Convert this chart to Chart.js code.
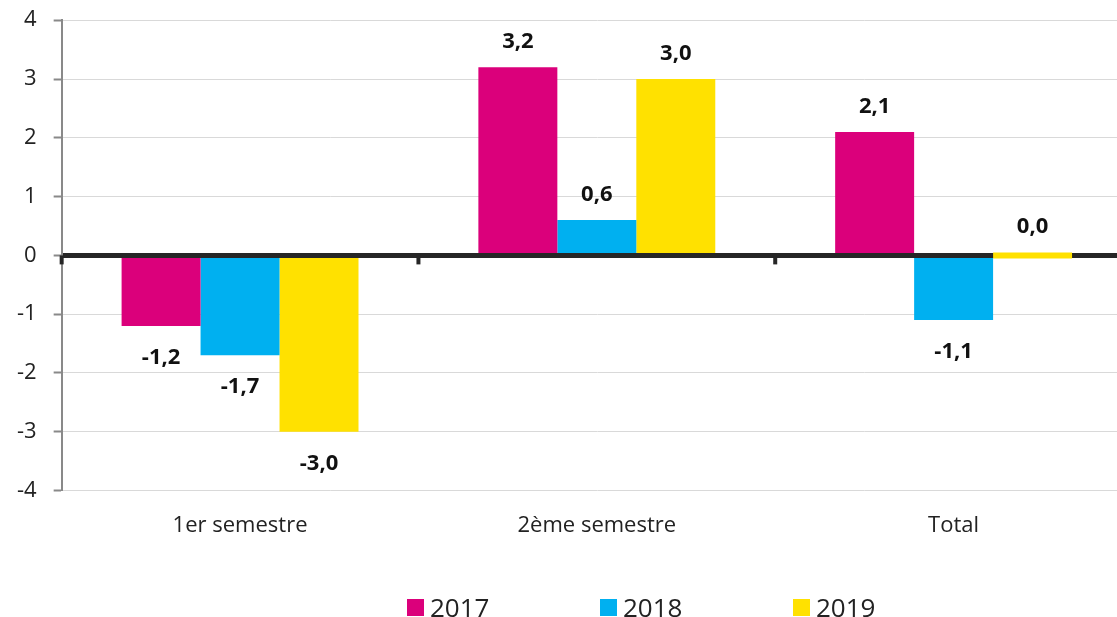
<!DOCTYPE html>
<html>
<head>
<meta charset="utf-8">
<script src="https://cdn.jsdelivr.net/npm/chart.js@4.4.0/dist/chart.umd.min.js"></script>
<style>
  html, body { margin: 0; padding: 0; background: #fff; overflow: hidden; }
  #wrap { position: relative; width: 1140px; height: 617px; overflow: hidden; }
  #mycanvas { position: absolute; left: 0; top: -10px; }
  #legend { position: absolute; left: 407px; top: 589px; display: flex; font-family: 'Open Sans', sans-serif; font-size: 26px; color: #222; }
  #legend .item { width: 193px; display: flex; align-items: center; }
  #legend .box { width: 17px; height: 17px; margin-right: 6px; }
</style>
</head>
<body>
<div id="wrap">
  <canvas id="mycanvas"></canvas>
  <div id="legend"></div>
</div>
<script>
var categories = ['1er semestre', '2ème semestre', 'Total'];
var years = ['2017', '2018', '2019'];
var values2017 = [-1.2, 3.2, 2.1];
var values2018 = [-1.7, 0.6, -1.1];
var values2019 = [-3.0, 3.0, 0.0];
var yTicks = [-4, -3, -2, -1, 0, 1, 2, 3, 4];
var colors = ['#DB007B', '#00B0F0', '#FFE100'];

Chart.defaults.font.family = "'Open Sans', sans-serif";
Chart.defaults.color = '#222';

function fmt(v) {
  return v.toFixed(1).replace('.', ',');
}

// value labels above / below the bars
var barLabels = {
  id: 'barLabels',
  afterDatasetsDraw: function(chart) {
    var ctx = chart.ctx;
    ctx.save();
    ctx.font = "bold 22px 'Open Sans', sans-serif";
    ctx.fillStyle = '#111';
    ctx.textAlign = 'center';
    ctx.textBaseline = 'alphabetic';
    chart.data.datasets.forEach(function(ds, i) {
      var meta = chart.getDatasetMeta(i);
      meta.data.forEach(function(bar, j) {
        var v = ds.data[j];
        var y = v >= 0 ? Math.min(bar.y, bar.base) - 19 : Math.max(bar.y, bar.base) + 38;
        ctx.fillText(fmt(v), bar.x, y);
      });
    });
    ctx.restore();
  }
};

// small tick marks under the zero line at category boundaries
var zeroTicks = {
  id: 'zeroTicks',
  afterDatasetsDraw: function(chart) {
    var x = chart.scales.x, y = chart.scales.y;
    var ctx = chart.ctx;
    var y0 = y.getPixelForValue(0);
    var step = x.width / categories.length;
    ctx.save();
    ctx.fillStyle = '#262626';
    for (var i = 0; i < categories.length; i++) {
      var px = x.left + i * step;
      ctx.fillRect(px - 2, y0, 4, 9);
    }
    ctx.restore();
  }
};

var chartdata = {
  labels: categories,
  datasets: [
    { label: years[0], data: values2017, backgroundColor: colors[0] },
    { label: years[1], data: values2018, backgroundColor: colors[1] },
    { label: years[2], data: values2019, backgroundColor: colors[2] }
  ]
};

var ctx = document.getElementById('mycanvas');
ctx.width = 1140;
ctx.height = 627;

var barGraph = new Chart(ctx, {
  type: 'bar',
  data: chartdata,
  options: {
    responsive: false,
    animation: false,
    layout: { padding: { left: 0, right: 8, top: 0, bottom: 56 } },
    datasets: {
      bar: { barPercentage: 1, categoryPercentage: 0.664, minBarLength: 6, borderWidth: 0 }
    },
    plugins: {
      legend: { display: false },
      tooltip: { enabled: false }
    },
    scales: {
      x: {
        grid: { display: false, drawTicks: false },
        border: { display: false },
        ticks: { font: { size: 22 }, padding: 22, color: '#222' }
      },
      y: {
        min: yTicks[0],
        max: yTicks[yTicks.length - 1],
        afterBuildTicks: function(scale) {
          scale.ticks = yTicks.map(function(v) { return { value: v }; });
        },
        grid: {
          color: function(c) { return c.tick && c.tick.value === 0 ? '#262626' : '#D9D9D9'; },
          lineWidth: function(c) { return c.tick && c.tick.value === 0 ? 5 : 1; },
          tickColor: '#898989',
          tickLength: 8,
          tickWidth: 2
        },
        border: { display: true, color: '#898989', width: 2 },
        ticks: { font: { size: 22 }, padding: 17, color: '#222' }
      }
    }
  },
  plugins: [barLabels, zeroTicks]
});

// legend
var legend = document.getElementById('legend');
years.forEach(function(y, i) {
  var item = document.createElement('div');
  item.className = 'item';
  var box = document.createElement('span');
  box.className = 'box';
  box.style.background = colors[i];
  var txt = document.createElement('span');
  txt.textContent = y;
  item.appendChild(box);
  item.appendChild(txt);
  legend.appendChild(item);
});
</script>
</body>
</html>
